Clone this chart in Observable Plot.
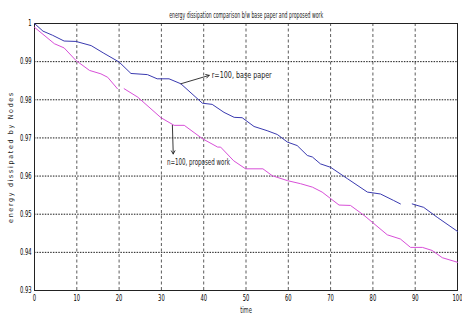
<!DOCTYPE html>
<html>
<head>
<meta charset="utf-8">
<script src="https://cdn.jsdelivr.net/npm/d3@7"></script>
<script src="https://cdn.jsdelivr.net/npm/@observablehq/plot@0.6"></script>
<style>
  html, body { margin: 0; padding: 0; background: white; }
</style>
</head>
<body>
<div id="chart"></div>
<script>
const titleText = "energy dissipation comparison b/w base paper and proposed work";
const xLabel = "time";
const yLabel = "energy dissipated by Nodes";

const xTicks = [0, 10, 20, 30, 40, 50, 60, 70, 80, 90, 100];
const yTicks = [0.93, 0.94, 0.95, 0.96, 0.97, 0.98, 0.99, 1];

// r=100, base paper (NaN marks the break in the trace)
const baseX = [0, 2, 4.3, 7, 9.8, 13.4, 16.4, 20, 22.8, 26.7, 29, 31.8, 34.6, 39.7, 42, 44.8, 47.2, 49.1, 51.9, 55, 57.4, 59.8, 62.1, 64.5, 65.7, 67.6, 70, 74, 78.7, 81.8, 84.9, 86.5, 88, 89.3, 92, 95.2, 100];
const baseY = [1.0, 0.998, 0.9969, 0.9954, 0.9953, 0.9942, 0.9922, 0.9899, 0.9869, 0.9866, 0.9855, 0.9855, 0.9842, 0.9791, 0.9788, 0.9767, 0.9754, 0.9753, 0.973, 0.9719, 0.9709, 0.9689, 0.968, 0.9654, 0.965, 0.9632, 0.9623, 0.9593, 0.9558, 0.9553, 0.9536, 0.9527, NaN, 0.9527, 0.9518, 0.9492, 0.9455];

// n=100, proposed work
const propX = [0, 4.7, 7, 9.8, 13, 15.7, 17.3, 19.6, 20.4, 21.2, 24.4, 29.9, 33, 35.4, 39.7, 43.3, 44, 47.1, 49.9, 54, 56.2, 59.8, 62.9, 65.7, 68, 72, 74.7, 77.9, 83.4, 86.5, 88.9, 91.7, 94, 96.4, 100];
const propY = [0.999, 0.9947, 0.9936, 0.9903, 0.9877, 0.9868, 0.9859, 0.9829, NaN, 0.9829, 0.9807, 0.9753, 0.9733, 0.9733, 0.9698, 0.9676, 0.9676, 0.964, 0.9619, 0.9619, 0.9601, 0.9588, 0.958, 0.9571, 0.9558, 0.9524, 0.9523, 0.9497, 0.9446, 0.9435, 0.9413, 0.9413, 0.9405, 0.9386, 0.9374];

// annotations
const annLabels = ["r=100, base paper", "n=100, proposed work"];
const annTailX = [34.6, 32.6];
const annTailY = [0.9842, 0.9733];
const annHeadX = [41.3, 32.8];
const annHeadY = [0.9864, 0.9658];
const annTextX = [41.9, 31.3];
const annTextY = [0.9864, 0.9635];

const base = baseX.map((x, i) => ({x, y: baseY[i]}));
const prop = propX.map((x, i) => ({x, y: propY[i]}));
const ann = annLabels.map((label, i) => ({
  label, x1: annTailX[i], y1: annTailY[i], x2: annHeadX[i], y2: annHeadY[i], tx: annTextX[i], ty: annTextY[i]
}));

const font = "'Liberation Sans Narrow', 'DejaVu Sans Condensed', 'Liberation Sans', sans-serif";

const chart = Plot.plot({
  width: 462,
  height: 322,
  marginLeft: 34,
  marginRight: 5,
  marginTop: 23,
  marginBottom: 32,
  style: {fontFamily: font, fontSize: "8px", background: "white", color: "black"},
  x: {domain: [0, 100]},
  y: {domain: [0.93, 1]},
  marks: [
    Plot.gridX(xTicks, {stroke: "#333", strokeOpacity: 0.8, strokeDasharray: "3,2.5"}),
    Plot.gridY(yTicks, {stroke: "#000", strokeOpacity: 0.9, strokeDasharray: "1.5,1.2"}),
    Plot.frame({stroke: "#222", strokeWidth: 1}),
    Plot.axisX({ticks: xTicks, tickSize: 0, tickPadding: 4, label: null, fontSize: 8.5, className: "sq"}),
    Plot.axisY({ticks: yTicks, tickSize: 0, tickPadding: 3, label: null, fontSize: 8.5, className: "sq",
      tickFormat: d => d === 1 ? "1" : d.toFixed(2)}),
    Plot.line(base, {x: "x", y: "y", stroke: "#3a3ab0", strokeWidth: 1}),
    Plot.line(prop, {x: "x", y: "y", stroke: "#d84fd8", strokeWidth: 1}),
    Plot.arrow(ann, {x1: "x1", y1: "y1", x2: "x2", y2: "y2", stroke: "#222", strokeWidth: 0.9, headLength: 6}),
    Plot.text(ann, {x: "tx", y: "ty", text: "label", textAnchor: "start", fontSize: 8, fill: "#222", className: "ann"}),
    Plot.text([titleText], {frameAnchor: "top", dy: -11, fontSize: 8, fill: "#222", className: "ttl"}),
    Plot.text([xLabel], {frameAnchor: "bottom", dy: 22, fontSize: 8.5, fill: "#222", className: "sq"}),
    Plot.text([yLabel], {frameAnchor: "left", textAnchor: "middle", rotate: -90, dx: -24, fontSize: 7, fill: "#222", className: "ylab"})
  ]
});
document.getElementById("chart").appendChild(chart);

// condense text horizontally, like the narrow bitmap font of the original;
// keep each text centred where it was by correcting with dx
function fit(sel, fn, recentre) {
  d3.select(chart).selectAll(sel).each(function() {
    const L = this.getComputedTextLength();
    if (!(L > 0)) return;
    const b0 = this.getBBox();
    this.setAttribute("textLength", fn(L, this.textContent).toFixed(2));
    this.setAttribute("lengthAdjust", "spacingAndGlyphs");
    if (recentre) {
      const b1 = this.getBBox();
      const shift = (b0.x + b0.width / 2) - (b1.x + b1.width / 2);
      const dx = parseFloat(this.getAttribute("dx")) || 0;
      this.setAttribute("dx", dx + shift);
    }
  });
}
fit(".sq text", L => L * 0.68, false);
fit("text.ttl, .ttl text", L => 154, true);
fit("text.ann, .ann text", (L, t) => t.startsWith("r=") ? 60 : 63, false);
d3.select(chart).selectAll("text.ylab, .ylab text").style("letter-spacing", "1.7px");
</script>
</body>
</html>
